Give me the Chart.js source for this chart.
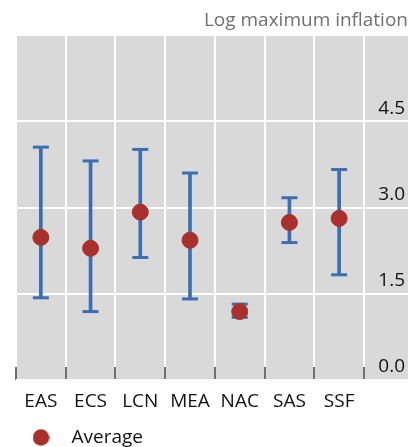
<!DOCTYPE html>
<html>
<head>
<meta charset="utf-8">
<script src="https://cdn.jsdelivr.net/npm/chart.js@4"></script>
<style>
  html, body { margin: 0; padding: 0; background: #fff; }
  #wrap { width: 408px; height: 447px; position: relative; }
</style>
</head>
<body>
<div id="wrap"><canvas id="c"></canvas></div>
<script>
const categories = ['EAS', 'ECS', 'LCN', 'MEA', 'NAC', 'SAS', 'SSF'];
const averages = [2.48, 2.29, 2.92, 2.43, 1.19, 2.74, 2.81];
const lows     = [1.43, 1.19, 2.13, 1.41, 1.09, 2.39, 1.83];
const highs    = [4.05, 3.81, 4.01, 3.60, 1.32, 3.17, 3.66];
const yTicks   = [0, 1.5, 3.0, 4.5, 6.0];
const axisTitle = 'Log maximum inflation';
const legendLabel = 'Average';

const BLUE = '#3C6EB4';
const RED = '#A9302D';
const GRAY = '#D9D9D9';
const FONT = '"Open Sans", "Noto Sans", sans-serif';
const FS = 19;

// legend marker image (drawn by Chart.js legend as a point style)
const dot = document.createElement('canvas');
dot.width = 17; dot.height = 17;
(function () {
  const g = dot.getContext('2d');
  g.fillStyle = RED;
  g.beginPath(); g.arc(8.5, 8.5, 8.3, 0, Math.PI * 2); g.fill();
})();

const bgPlugin = {
  id: 'plotBg',
  beforeDraw(chart) {
    const {ctx, chartArea} = chart;
    ctx.save();
    ctx.fillStyle = GRAY;
    ctx.fillRect(chartArea.left, chartArea.top, chart.width - chartArea.left, chartArea.bottom - chartArea.top);
    ctx.restore();
  }
};

new Chart(document.getElementById('c'), {
  type: 'bar',
  data: {
    labels: categories,
    datasets: [
      {
        type: 'line',
        label: legendLabel,
        data: averages,
        showLine: false,
        pointStyle: 'circle',
        pointRadius: 8,
        pointBorderWidth: 1,
        pointBackgroundColor: RED,
        pointBorderColor: RED,
        order: 0
      },
      {
        type: 'bar',
        label: 'range',
        data: lows.map((l, i) => [l, highs[i]]),
        backgroundColor: BLUE,
        borderWidth: 0,
        barThickness: 3,
        order: 2
      },
      {
        type: 'line',
        label: 'low',
        data: lows,
        showLine: false,
        pointStyle: 'line',
        pointRadius: 8,
        pointBorderWidth: 3,
        pointBorderColor: BLUE,
        order: 1
      },
      {
        type: 'line',
        label: 'high',
        data: highs,
        showLine: false,
        pointStyle: 'line',
        pointRadius: 8,
        pointBorderWidth: 3,
        pointBorderColor: BLUE,
        order: 1
      }
    ]
  },
  options: {
    responsive: true,
    maintainAspectRatio: false,
    animation: false,
    events: [],
    layout: { padding: { left: 16, right: 0, top: 0, bottom: -10 } },
    scales: {
      x: {
        offset: true,
        grid: {
          offset: true,
          color: '#FFFFFF',
          lineWidth: 2,
          drawTicks: true,
          tickLength: -13,
          tickColor: '#222222',
          tickWidth: 1.3
        },
        border: { display: false },
        ticks: {
          color: '#111111',
          padding: 23.5,
          font: { family: FONT, size: FS }
        },
        afterFit(scale) {
          scale.height = 44;
          scale.paddingLeft = 0; scale.paddingRight = 0;
        }
      },
      y: {
        position: 'right',
        min: 0,
        max: 6,
        afterBuildTicks(scale) { scale.ticks = yTicks.map(v => ({ value: v })); },
        grid: {
          color: '#FFFFFF',
          lineWidth: 2,
          drawTicks: true,
          tickLength: 44,
          tickColor: '#FFFFFF',
          tickWidth: 2
        },
        border: { display: false },
        ticks: {
          mirror: true,
          crossAlign: 'near',
          padding: 41,
          labelOffset: -13,
          color: '#111111',
          font: { family: FONT, size: FS },
          callback(v) { return v >= 6 ? '' : Number(v).toFixed(1); }
        },
        afterFit(scale) {
          scale.width = 44;
          scale.paddingTop = 0; scale.paddingBottom = 0;
        }
      }
    },
    plugins: {
      title: {
        display: true,
        text: axisTitle,
        align: 'end',
        color: '#707070',
        font: { family: FONT, size: FS, weight: 'normal', lineHeight: 1.2 },
        padding: { top: 9, bottom: 3.2 }
      },
      legend: {
        display: true,
        position: 'bottom',
        align: 'start',
        labels: {
          usePointStyle: true,
          pointStyleWidth: 42,
          padding: 4,
          color: '#111111',
          font: { family: FONT, size: FS },
          generateLabels(chart) {
            const items = Chart.defaults.plugins.legend.labels.generateLabels(chart);
            return items.filter(it => it.text === legendLabel).map(it => Object.assign(it, { pointStyle: dot }));
          }
        }
      },
      tooltip: { enabled: false }
    }
  },
  plugins: [bgPlugin]
});
</script>
</body>
</html>
